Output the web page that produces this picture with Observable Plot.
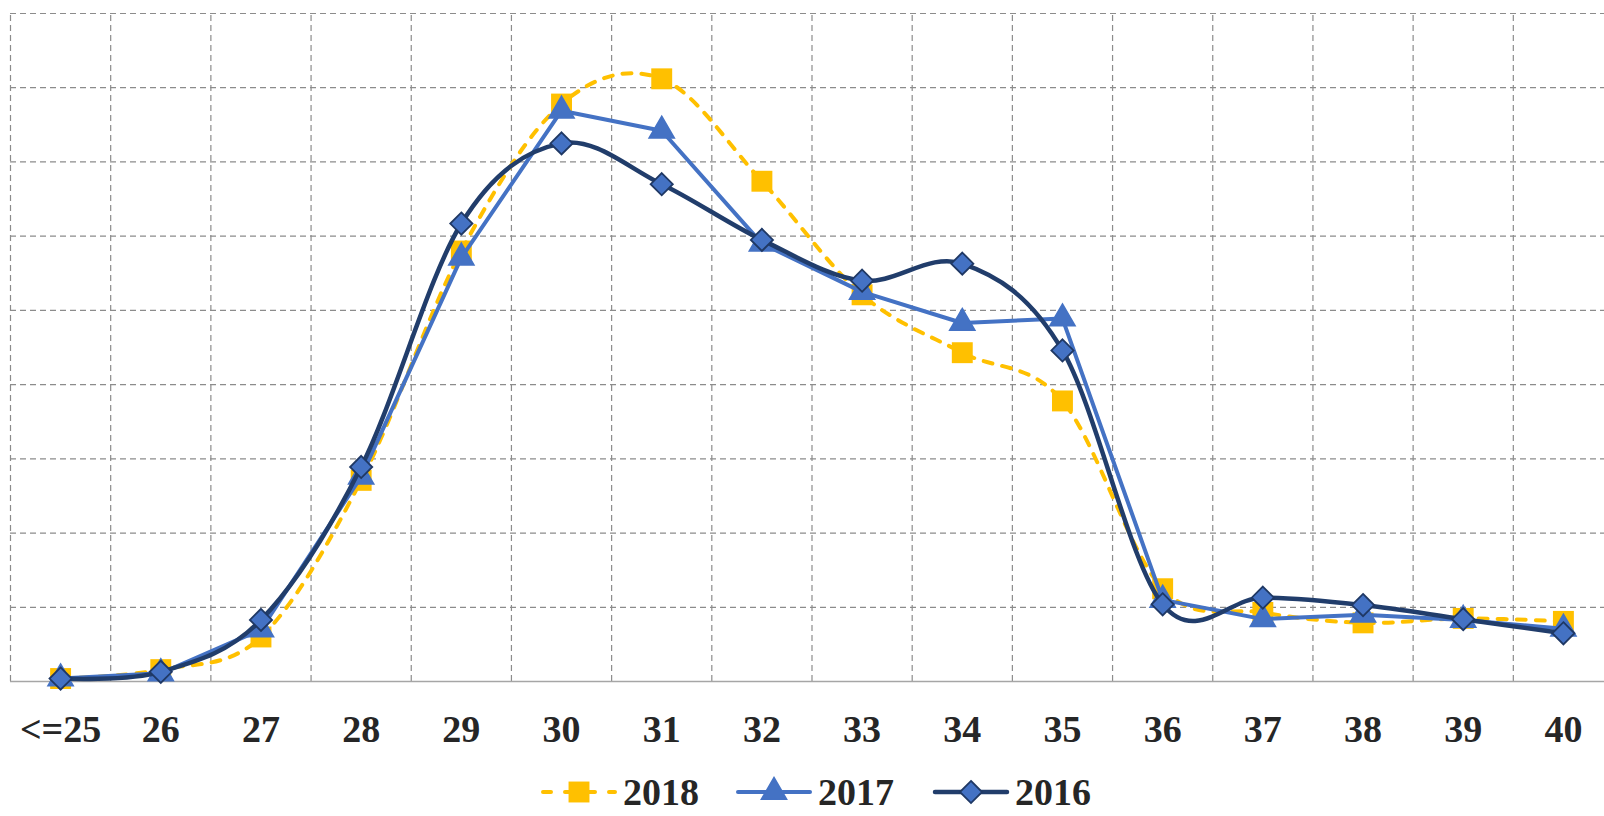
<!DOCTYPE html>
<html>
<head>
<meta charset="utf-8">
<script src="https://cdn.jsdelivr.net/npm/d3@7"></script>
<script src="https://cdn.jsdelivr.net/npm/@observablehq/plot@0.6"></script>
<style>
  html, body { margin: 0; padding: 0; background: #ffffff; overflow: hidden; }
  #chart svg { display: block; }
</style>
</head>
<body>
<div id="chart"></div>
<div id="legend"></div>
<script>
// ---- data ----
const categories = ["<=25", "26", "27", "28", "29", "30", "31", "32", "33", "34", "35", "36", "37", "38", "39", "40"];
const series = ["2018", "2017", "2016"];
const values2018 = [0.04, 0.16, 0.60, 2.71, 5.80, 7.78, 8.12, 6.74, 5.21, 4.43, 3.78, 1.25, 0.93, 0.79, 0.85, 0.81];
const values2017 = [0.04, 0.11, 0.70, 2.76, 5.71, 7.69, 7.42, 5.90, 5.25, 4.83, 4.89, 1.10, 0.84, 0.90, 0.83, 0.71];
const values2016 = [0.04, 0.13, 0.83, 2.89, 6.17, 7.25, 6.70, 5.95, 5.40, 5.63, 4.46, 1.04, 1.13, 1.03, 0.84, 0.65];
const gridValues = [1, 2, 3, 4, 5, 6, 7, 8, 9];

// ---- styles ----
const fontFamily = "'Liberation Serif', 'Times New Roman', serif";
const textColor = "#262626";
const gridColor = "#8c8c8c";
const styles = {
  "2018": {stroke: "#FFC000", strokeWidth: 4, dash: "9,10", curve: "cardinal", symbol: "square", r: 11.8, fill: "#FFC000", markStroke: "none"},
  "2017": {stroke: "#4472C4", strokeWidth: 4, dash: null, curve: "linear", symbol: "triangle", r: 9.2, fill: "#4472C4", markStroke: "#4472C4"},
  "2016": {stroke: "#213D6B", strokeWidth: 4.5, dash: null, curve: "cardinal", symbol: "diamond2", r: 10, fill: "#4472C4", markStroke: "#1F3864"}
};

const table = (vals) => categories.map((c, i) => ({i, category: c, value: vals[i]}));
const data = {"2018": table(values2018), "2017": table(values2017), "2016": table(values2016)};

const xIndex = categories.map((c, i) => i);
const xBounds = d3.range(-0.5, categories.length, 1);

const seriesMarks = [];
for (const s of series) {
  const st = styles[s];
  seriesMarks.push(Plot.line(data[s], {
    x: "i", y: "value", curve: st.curve, stroke: st.stroke, strokeWidth: st.strokeWidth,
    strokeDasharray: st.dash, strokeLinecap: st.dash ? "round" : "butt", strokeLinejoin: "round"
  }));
  seriesMarks.push(Plot.dot(data[s], {
    x: "i", y: "value", symbol: st.symbol, r: st.r, fill: st.fill,
    stroke: st.markStroke, strokeWidth: st.markStroke === "none" ? 0 : 1.8
  }));
}

const chart = Plot.plot({
  width: 1604,
  height: 758,
  marginLeft: 10,
  marginRight: 0,
  marginTop: 13,
  marginBottom: 77,
  style: {fontFamily, background: "#ffffff", overflow: "hidden"},
  x: {type: "linear", domain: [-0.5, 15.5], range: [10, 1613], axis: null, label: null},
  y: {type: "linear", domain: [0, 9], axis: null, label: null},
  marks: [
    Plot.ruleY(gridValues, {stroke: gridColor, strokeWidth: 1.2, strokeDasharray: "6,4"}),
    Plot.ruleX(xBounds, {x: d => d, y1: 0, y2: 9, stroke: gridColor, strokeWidth: 1.2, strokeDasharray: "6,4"}),
    Plot.ruleY([0], {stroke: "#a6a6a6", strokeWidth: 1.5}),
    ...seriesMarks,
    Plot.axisX(xIndex, {
      tickSize: 0, tickPadding: 34, tickFormat: i => categories[i], label: null,
      fontSize: 38, fontWeight: "bold", fill: textColor, fontFamily
    })
  ]
});
document.getElementById("chart").appendChild(chart);

// ---- legend (below the chart) ----
const legendH = 58;
const legendSvg = d3.select("#legend").append("svg")
  .attr("width", 1604).attr("height", legendH)
  .style("display", "block")
  .style("font-family", fontFamily);

const legendStarts = [541, 736, 933];
const sampleW = 76, baseline = 47, cy = baseline - 13;
const symMap = {square: d3.symbolSquare, triangle: d3.symbolTriangle, diamond2: d3.symbolDiamond2};
series.forEach((s, k) => {
  const st = styles[s];
  const g = legendSvg.append("g").attr("transform", `translate(${legendStarts[k]},0)`);
  g.append("line")
    .attr("x1", st.dash ? 2 : 2).attr("x2", sampleW - 2)
    .attr("y1", cy).attr("y2", cy)
    .attr("stroke", st.stroke).attr("stroke-width", st.strokeWidth)
    .attr("stroke-dasharray", st.dash ? "8,14" : null)
    .attr("stroke-linecap", "round");
  const size = Math.PI * st.r * st.r;
  g.append("path")
    .attr("transform", `translate(${sampleW / 2},${cy})`)
    .attr("d", d3.symbol(symMap[st.symbol], size)())
    .attr("fill", st.fill)
    .attr("stroke", st.markStroke === "none" ? null : st.markStroke)
    .attr("stroke-width", 1.8);
  g.append("text")
    .attr("x", sampleW + 6).attr("y", baseline)
    .attr("font-size", 38).attr("font-weight", "bold")
    .attr("fill", textColor)
    .text(s);
});
</script>
</body>
</html>
